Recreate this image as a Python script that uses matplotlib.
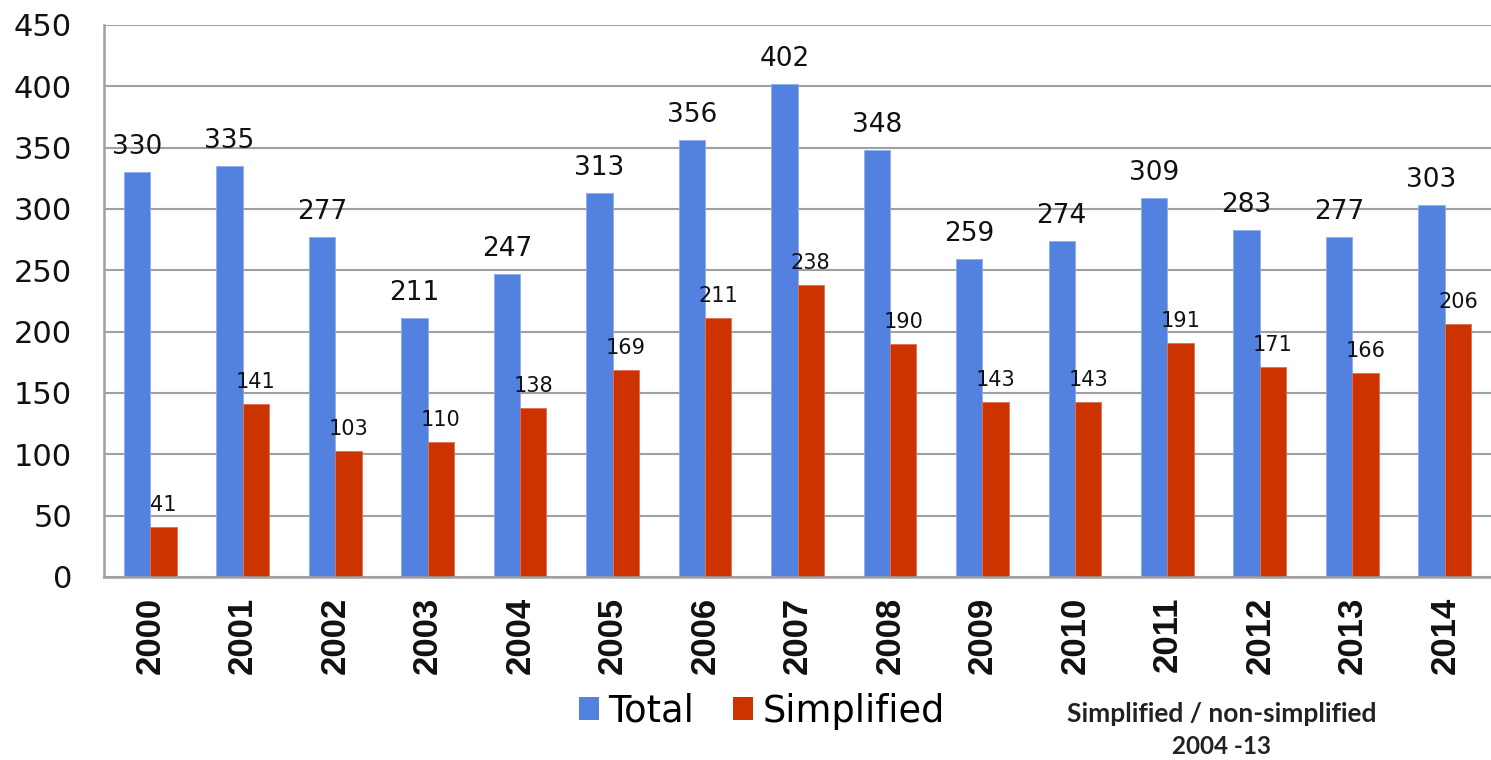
import matplotlib
matplotlib.use("Agg")
import matplotlib.pyplot as plt
from matplotlib.patches import Patch
import numpy as np

years = ["2000", "2001", "2002", "2003", "2004", "2005", "2006", "2007",
         "2008", "2009", "2010", "2011", "2012", "2013", "2014"]
total = [330, 335, 277, 211, 247, 313, 356, 402, 348, 259, 274, 309, 283, 277, 303]
simplified = [41, 141, 103, 110, 138, 169, 211, 238, 190, 143, 143, 191, 171, 166, 206]
series_names = ["Total", "Simplified"]
yticks = [0, 50, 100, 150, 200, 250, 300, 350, 400, 450]

blue = "#5281E0"
red = "#CC3300"
grid_c = "#A0A0A0"

fig = plt.figure(figsize=(14.91, 7.60), dpi=100)
ax = fig.add_axes([104/1491, 1-577/760, 1-104/1491, (577-25)/760])

x = np.arange(len(years))
w = 0.285
ax.bar(x - w/2, total, w, color=blue, edgecolor="#8FAEEA", linewidth=0.6, zorder=3)
ax.bar(x + w/2, simplified, w, color=red, edgecolor="#E07050", linewidth=0.6, zorder=3)

for xi, v in zip(x, total):
    ax.annotate(str(v), (xi - w/2, v), xytext=(0, 13), textcoords="offset points",
                ha="center", va="baseline", fontsize=19, color="#111111",
                family="DejaVu Sans", zorder=4)
for xi, v in zip(x, simplified):
    ax.annotate(str(v), (xi + w/2, v), xytext=(0, 11.5), textcoords="offset points",
                ha="center", va="baseline", fontsize=15, color="#111111",
                family="DejaVu Sans", zorder=4)

ax.set_xlim(-0.5, len(years) - 0.5)
ax.set_ylim(0, 450)
ax.set_yticks(yticks)
ax.set_yticklabels([str(t) for t in yticks], fontsize=22, family="DejaVu Sans", color="#111111")
ax.set_xticks(x)
ax.set_xticklabels(years, rotation=90, fontsize=25, fontweight="bold",
                   family="Liberation Sans", color="#111111")
ax.tick_params(axis="y", length=0, pad=23)
ax.tick_params(axis="x", length=0, pad=14)

ax.yaxis.grid(True, color=grid_c, linewidth=1.5, zorder=0)
ax.set_axisbelow(True)
for s in ["top", "right"]:
    ax.spines[s].set_visible(False)
for s in ["left", "bottom"]:
    ax.spines[s].set_color(grid_c)
    ax.spines[s].set_linewidth(1.8)
    ax.spines[s].set_zorder(5)

handles = [Patch(facecolor=blue), Patch(facecolor=red)]
fig.legend(handles, series_names, loc="center", bbox_to_anchor=(762/1491, 1-711/760),
           ncol=2, frameon=False, prop={"family": "DejaVu Sans", "size": 26.5},
           handlelength=0.55, handleheight=0.55, handletextpad=0.25, columnspacing=1.05,
           borderaxespad=0, borderpad=0)

fig.text(1222/1491, 1-714/760, "Simplified / non-simplified", ha="center", va="center",
         fontsize=19, fontweight="bold", family="Lato", color="#222222")
fig.text(1222/1491, 1-746/760, "2004 -13", ha="center", va="center",
         fontsize=17.5, fontweight="bold", family="Lato", color="#222222")

fig.savefig("out.png", dpi=100)
